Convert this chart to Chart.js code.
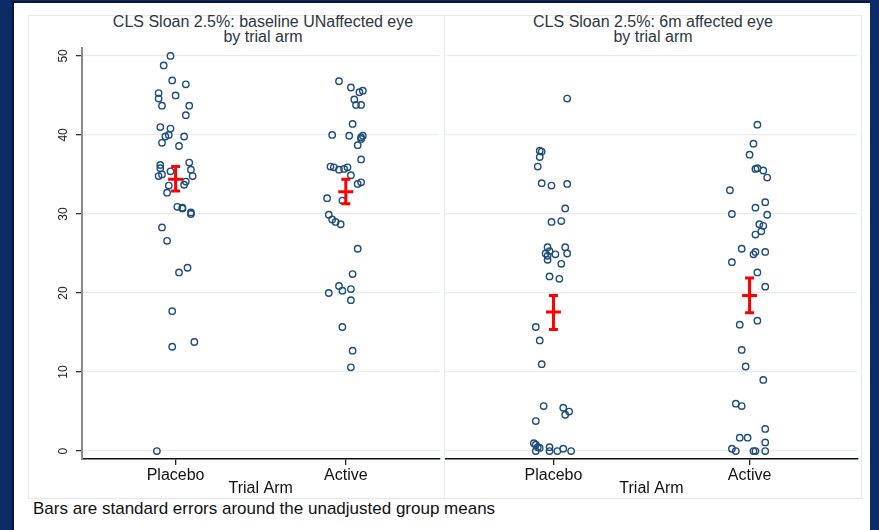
<!DOCTYPE html>
<html>
<head>
<meta charset="utf-8">
<script src="https://cdn.jsdelivr.net/npm/chart.js@4.4.1/dist/chart.umd.min.js"></script>
<style>
  body { margin: 0; width: 879px; height: 530px; overflow: hidden; position: relative;
         background: #0c2a66; font-family: "Liberation Sans", Arial, sans-serif; }
  .abs { position: absolute; }
  #page { left: 12px; top: 1px; width: 856px; height: 529px; background: #fff;
          border-left: 2px solid #06163a; border-top: 2px solid #06163a; }
  #box { left: 28px; top: 15px; width: 834px; height: 484px; box-sizing: border-box;
         border: 1px solid #e2e9ed; }
  #divider { left: 444px; top: 15px; width: 1px; height: 484px; background: #e2e9ed; }
  .ttl { top: 14px; font-size: 16px; line-height: 15px; color: #2b3742; text-align: center; }
  #caption { left: 33px; top: 499px; font-size: 17px; color: #111; }
</style>
</head>
<body>
<div id="page" class="abs"></div>
<div id="box" class="abs"></div>
<div id="divider" class="abs"></div>
<div class="abs ttl" style="left:82px;width:362px">CLS Sloan 2.5%: baseline UNaffected eye<br>by trial arm</div>
<div class="abs ttl" style="left:444px;width:418px">CLS Sloan 2.5%: 6m affected eye<br>by trial arm</div>
<canvas id="left" class="abs" width="416" height="458" style="left:28px;top:40px"></canvas>
<canvas id="right" class="abs" width="421" height="458" style="left:441px;top:40px"></canvas>
<div id="caption" class="abs">Bars are standard errors around the unadjusted group means</div>
<script>
const arms = ["Placebo", "Active"];
const yTicks = [0, 10, 20, 30, 40, 50];

// baseline, unaffected eye
const basePlaceboY = [50.0,48.8,46.9,46.4,45.3,44.6,45.0,43.7,43.7,42.5,41.0,40.8,40.0,39.8,39.8,39.0,38.6,36.5,36.2,35.8,35.6,35.4,35.0,34.8,34.8,34.1,33.7,33.6,32.7,30.9,30.8,30.7,30.2,30.0,28.3,26.6,22.6,23.2,17.7,13.2,13.8,0.0];
const basePlaceboJit = [-0.03,-0.07,-0.02,0.06,-0.10,-0.10,0.00,-0.08,0.08,0.06,-0.09,-0.03,-0.04,-0.06,0.05,-0.08,0.02,0.08,-0.09,-0.09,0.09,-0.03,-0.08,-0.10,0.10,0.06,0.05,-0.04,-0.05,0.01,0.04,0.04,0.09,0.09,-0.08,-0.05,0.02,0.07,-0.02,-0.02,0.11,-0.11];
const baseActiveY = [46.8,46.0,45.4,45.6,44.5,43.8,43.8,41.4,40.0,39.9,39.9,39.7,39.5,38.7,36.9,36.0,35.9,35.6,35.7,35.9,34.9,34.0,33.8,32.0,31.7,29.9,29.3,29.0,28.7,25.6,22.4,20.9,20.5,20.3,20.0,19.1,15.7,12.7,10.6];
const baseActiveJit = [-0.04,0.03,0.08,0.10,0.05,0.06,0.09,0.04,-0.08,0.02,0.10,0.09,0.09,0.07,0.09,-0.09,-0.07,-0.04,-0.01,0.01,0.03,0.09,0.07,-0.11,-0.02,-0.10,-0.08,-0.06,-0.03,0.07,0.04,-0.04,0.03,-0.02,-0.10,0.03,-0.02,0.04,0.03];
const baseMeans = [34.4, 32.8];
const baseLow = [32.9, 31.3];
const baseHigh = [36.0, 34.4];

// 6 months, affected eye
const m6PlaceboY = [44.6,38.0,37.9,37.2,36.0,33.9,33.6,33.8,30.7,29.0,29.1,25.8,25.8,25.3,25.0,24.7,25.0,24.9,24.2,23.7,22.1,21.8,15.7,14.0,11.0,5.7,5.5,5.0,4.6,3.8,1.0,0.8,0.5,0.4,0.0,0.5,0.0,0.0,0.3,0.0];
const m6PlaceboJit = [0.07,-0.07,-0.06,-0.07,-0.08,-0.06,-0.01,0.07,0.06,-0.01,0.04,-0.03,0.06,-0.02,-0.04,-0.03,0.07,0.01,-0.03,0.04,-0.02,0.03,-0.09,-0.07,-0.06,-0.05,0.05,0.08,0.06,-0.09,-0.10,-0.09,-0.08,-0.07,-0.09,-0.02,-0.02,0.02,0.05,0.09];
const m6ActiveY = [41.3,38.9,37.5,35.7,35.8,35.5,34.6,33.0,31.5,30.8,30.0,29.9,28.7,28.5,27.8,27.4,25.6,25.2,24.9,25.2,23.9,22.6,20.8,16.5,16.0,12.8,10.7,9.0,6.0,5.7,2.8,1.7,1.7,1.1,0.3,0.0,0.0,0.0,0.0];
const m6ActiveJit = [0.04,0.02,0.00,0.03,0.04,0.07,0.09,-0.10,0.08,0.03,-0.09,0.09,0.05,0.07,0.06,0.03,-0.04,0.03,0.02,0.08,-0.09,0.04,0.08,0.04,-0.05,-0.04,-0.02,0.07,-0.07,-0.04,0.08,-0.05,-0.01,0.08,-0.09,-0.07,0.02,0.03,0.08];
const m6Means = [17.6, 19.7];
const m6Low = [15.4, 17.5];
const m6High = [19.7, 21.9];

const dotColor = "#1d4d7c";
const gridColor = "#e6edf1";

function pts(ys, jit, pos) {
  return ys.map((v, i) => ({ x: pos + jit[i], y: v }));
}

// red SE bars drawn through the chart's scales
const errBars = {
  id: "errBars",
  afterDatasetsDraw(chart, args, opts) {
    const { ctx, scales: { x, y } } = chart;
    ctx.save();
    ctx.strokeStyle = "#ff0000";
    ctx.lineWidth = 3;
    opts.means.forEach((m, i) => {
      const px = x.getPixelForValue(i + 1);
      const lo = y.getPixelForValue(opts.low[i]);
      const hi = y.getPixelForValue(opts.high[i]);
      const mid = y.getPixelForValue(m);
      ctx.beginPath();
      ctx.moveTo(px, lo); ctx.lineTo(px, hi);
      ctx.moveTo(px - 4.5, lo); ctx.lineTo(px + 4.5, lo);
      ctx.moveTo(px - 4.5, hi); ctx.lineTo(px + 4.5, hi);
      ctx.moveTo(px - 7.5, mid); ctx.lineTo(px + 7.5, mid);
      ctx.stroke();
    });
    ctx.restore();
  }
};

// rotated y tick labels (Stata style)
const yLabels = {
  id: "yLabels",
  afterDraw(chart, args, opts) {
    if (!opts.show) return;
    const sc = chart.scales.y;
    const ctx = chart.ctx;
    ctx.save();
    ctx.font = "12px 'Liberation Sans', Arial, sans-serif";
    ctx.fillStyle = "#222";
    ctx.textAlign = "center";
    ctx.textBaseline = "middle";
    yTicks.forEach(v => {
      ctx.save();
      ctx.translate(sc.right - 18, sc.getPixelForValue(v));
      ctx.rotate(-Math.PI / 2);
      ctx.fillText(String(v), 0, 0);
      ctx.restore();
    });
    ctx.restore();
  }
};

function makeChart(id, placebo, active, err, showY) {
  new Chart(document.getElementById(id), {
    type: "scatter",
    data: {
      datasets: [placebo, active].map(d => ({
        data: d,
        pointRadius: 3.2,
        pointBorderWidth: 1.4,
        borderColor: dotColor,
        backgroundColor: "rgba(0,0,0,0)",
        pointHoverRadius: 3.2
      }))
    },
    options: {
      responsive: false,
      animation: false,
      layout: { padding: { top: 8, left: 0, right: 0, bottom: 0 } },
      plugins: {
        legend: { display: false },
        tooltip: { enabled: false },
        errBars: err,
        yLabels: { show: showY }
      },
      scales: {
        x: {
          type: "linear",
          min: 0.45,
          max: 2.55,
          afterBuildTicks: s => { s.ticks = [1, 2].map(v => ({ value: v })); },
          afterFit: s => { s.height = 39; },
          ticks: {
            callback: v => arms[v - 1],
            font: { size: 16, family: "'Liberation Sans', Arial, sans-serif" },
            color: "#111",
            padding: 1,
            maxRotation: 0,
            autoSkip: false
          },
          grid: { drawOnChartArea: false, tickLength: 6, tickColor: "#222", lineWidth: 1.3 },
          border: { color: "#111", width: 1.6 },
          title: {
            display: true,
            text: "Trial Arm",
            font: { size: 16, family: "'Liberation Sans', Arial, sans-serif" },
            color: "#111",
            padding: 0
          }
        },
        y: {
          min: -1,
          max: 51,
          afterBuildTicks: s => { s.ticks = yTicks.map(v => ({ value: v })); },
          afterFit: s => { s.width = showY ? 54 : 0; },
          ticks: { display: false },
          grid: {
            color: gridColor,
            lineWidth: 1.3,
            drawTicks: showY,
            tickLength: showY ? 6 : 0,
            tickColor: "#333"
          },
          border: showY
            ? { display: true, color: "#8a8a8a", width: 2 }
            : { display: true, color: "rgba(255,255,255,0)", width: 1 }
        }
      }
    },
    plugins: [errBars, yLabels]
  });
}

makeChart("left",
  pts(basePlaceboY, basePlaceboJit, 1),
  pts(baseActiveY, baseActiveJit, 2),
  { means: baseMeans, low: baseLow, high: baseHigh }, true);

makeChart("right",
  pts(m6PlaceboY, m6PlaceboJit, 1),
  pts(m6ActiveY, m6ActiveJit, 2),
  { means: m6Means, low: m6Low, high: m6High }, false);
</script>
</body>
</html>
